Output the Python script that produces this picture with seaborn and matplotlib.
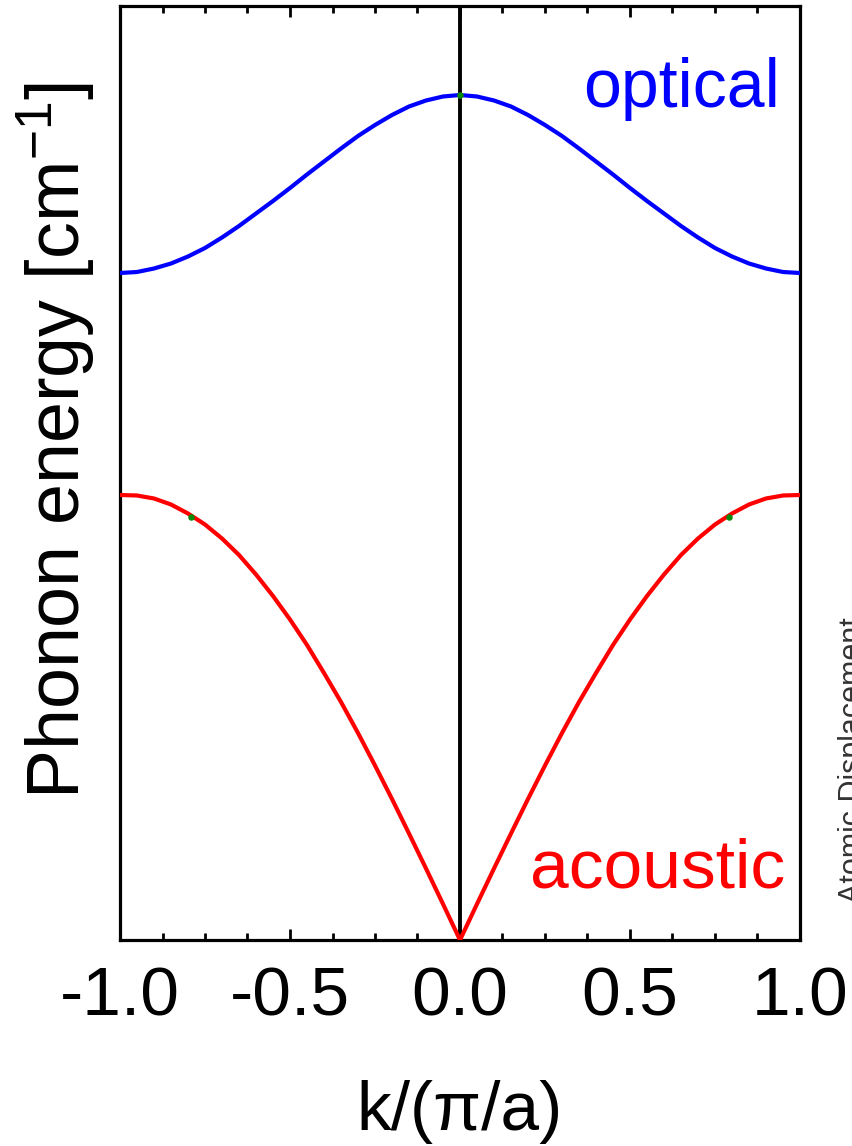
import numpy as np
import pandas as pd
import matplotlib
matplotlib.use("Agg")
import matplotlib.pyplot as plt
import seaborn as sns
from matplotlib.ticker import MultipleLocator, FormatStrFormatter

# Wavevector grid in units of pi/a
k = np.round(np.linspace(-1.0, 1.0, 41), 2)

# Acoustic branch energy (cm^-1, arbitrary scale)
acoustic = [445, 444.5, 441.5, 435.5, 426.5, 415.5, 401.5, 385, 365.5, 344, 320.5,
            295, 267, 238, 207, 174.5, 141, 106.5, 71.5, 36,
            0,
            36, 71.5, 106.5, 141, 174.5, 207, 238, 267, 295, 320.5,
            344, 365.5, 385, 401.5, 415.5, 426.5, 435.5, 441.5, 444.5, 445]

# Optical branch energy
optical = [667, 668, 671.5, 676.5, 683.5, 692, 702.5, 714, 726.5, 739, 752,
           765.5, 778.5, 791.5, 804, 815, 825, 833.5, 839.5, 843.5,
           845,
           843.5, 839.5, 833.5, 825, 815, 804, 791.5, 778.5, 765.5, 752,
           739, 726.5, 714, 702.5, 692, 683.5, 676.5, 671.5, 668, 667]

# Marked points on the branches
mark_k = [-0.79, 0.0, 0.79]
mark_E = [423, 845, 423]

sns.set_theme(style="white")
plt.rcParams['font.family'] = ['Liberation Sans', 'DejaVu Sans']
plt.rcParams['mathtext.default'] = 'regular'
plt.rcParams['axes.unicode_minus'] = False
plt.rcParams['text.color'] = 'black'
plt.rcParams['axes.labelcolor'] = 'black'
plt.rcParams['xtick.color'] = 'black'
plt.rcParams['ytick.color'] = 'black'

W, H = 853, 1146
fig = plt.figure(figsize=(W / 100, H / 100), dpi=100)
ax = fig.add_axes([120 / W, 1 - 940 / H, 680 / W, 934 / H])

df = pd.DataFrame({
    "k": np.concatenate([k, k]),
    "E": np.concatenate([acoustic, optical]),
    "branch": ["acoustic"] * len(k) + ["optical"] * len(k),
})

sns.lineplot(data=df, x="k", y="E", hue="branch",
             palette={"acoustic": "#ff0000", "optical": "#0000ff"},
             linewidth=3.0, legend=False, ax=ax, zorder=3)
for ln in ax.lines:
    ln.set_solid_joinstyle("round")
ax.axvline(0, color="black", lw=2.8, zorder=2)
ax.scatter(mark_k, mark_E, s=22, color="#0a8a0a", zorder=4, linewidths=0)

ax.set_xlim(-1.0, 1.0)
ax.set_ylim(0, 934)

for side in ax.spines.values():
    side.set_color("black")
    side.set_linewidth(2.3)

ax.xaxis.set_major_locator(MultipleLocator(0.5))
ax.xaxis.set_minor_locator(MultipleLocator(0.125))
ax.xaxis.set_major_formatter(FormatStrFormatter("%.1f"))
ax.tick_params(axis="x", which="both", direction="in", top=True, bottom=True,
               color="black", width=2.0, labelcolor="black")
ax.tick_params(axis="x", which="major", length=8, pad=18, labelsize=50)
ax.tick_params(axis="x", which="minor", length=5)
ax.tick_params(axis="y", left=False, right=False, labelleft=False)

ax.set_xlabel("k/(\u03c0/a)", fontsize=50, color="black")
ax.xaxis.set_label_coords(0.5, -0.150)
ax.set_ylabel("Phonon energy [cm$^{-1}$]", fontsize=53, color="black")
ax.yaxis.set_label_coords(-0.034, 0.535)

ax.text(0.941, 833, "optical", color="#0000ff", fontsize=49,
        ha="right", va="baseline")
ax.text(0.956, 52, "acoustic", color="#ff0000", fontsize=50,
        ha="right", va="baseline")

fig.text(838 / W, 1 - 760 / H, "Atomic Displacement", rotation=90,
         fontsize=22, color="#333333", ha="left", va="center")

fig.savefig("out.png", dpi=100, facecolor="white")
